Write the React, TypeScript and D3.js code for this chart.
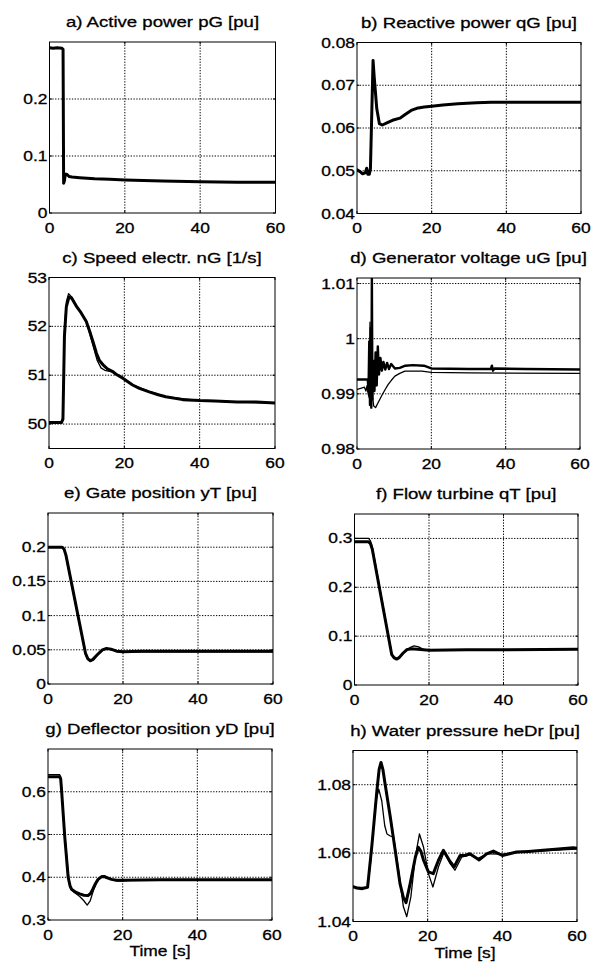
import React from "react";
import * as d3 from "d3";

type Pt = [number, number];

// shared time axis
const timeDomain: [number, number] = [0, 60];
const timeTicks = [0, 20, 40, 60];

// a) active power pG  (measurement only visible)
const pGMeas: Pt[] = [[0, 0.29], [1, 0.289], [2, 0.29], [3.3, 0.289], [3.6, 0.287], [3.75, 0.052], [3.95, 0.056], [4.2, 0.068], [4.6, 0.068], [5.2, 0.064], [6, 0.063], [8, 0.062], [10, 0.061], [12, 0.06], [16, 0.059], [20, 0.058], [25, 0.057], [30, 0.056], [40, 0.055], [50, 0.054], [60, 0.054]];

// b) reactive power qG
const qGMeas: Pt[] = [[0, 0.0502], [0.8, 0.0498], [1.5, 0.0493], [2.2, 0.0495], [2.6, 0.0506], [2.9, 0.0492], [3.3, 0.0492], [3.6, 0.0505], [4.3, 0.0758], [4.6, 0.072], [5.3, 0.0645], [6, 0.061], [6.8, 0.0607], [8, 0.0612], [9.5, 0.0618], [11.5, 0.0623], [13, 0.0632], [14.5, 0.0641], [16, 0.0646], [18, 0.0649], [20, 0.0651], [23, 0.0654], [27, 0.0657], [32, 0.0659], [36, 0.066], [45, 0.066], [60, 0.066]];

// c) speed nG
const nGMeas: Pt[] = [[0, 50.03], [3.3, 50.03], [3.7, 50.1], [4.1, 51.8], [4.6, 52.4], [5.3, 52.6], [6, 52.58], [7.2, 52.42], [8.5, 52.28], [9.9, 52.1], [10.8, 51.9], [11.7, 51.68], [12.6, 51.45], [13.4, 51.3], [14.5, 51.2], [15.5, 51.13], [16.8, 51.08], [17.8, 51.02], [19.6, 50.94], [22.2, 50.8], [24, 50.73], [26.6, 50.66], [29, 50.6], [31, 50.56], [35.5, 50.5], [40, 50.48], [44, 50.47], [50, 50.45], [55, 50.45], [60, 50.43]];
const nGSim: Pt[] = [[0, 50.03], [3.3, 50.03], [3.7, 50.15], [4.1, 51.9], [4.6, 52.5], [5.2, 52.67], [6, 52.6], [7.2, 52.44], [9.9, 52.1], [11.7, 51.6], [12.8, 51.3], [13.8, 51.15], [14.8, 51.1], [16.8, 51.07], [19.6, 50.95], [22, 50.81], [26.6, 50.67], [31, 50.56], [40, 50.48], [50, 50.45], [60, 50.43]];

// d) generator voltage uG
const uGMeas: Pt[] = [[0, 0.9926], [2.9, 0.9926], [3.1, 0.9905], [3.3, 0.9995], [3.5, 0.988], [3.7, 1.002], [3.85, 0.9875], [4.0, 1.011], [4.15, 0.989], [4.4, 0.996], [4.7, 0.9905], [5.0, 0.9975], [5.3, 0.9915], [5.6, 0.9986], [5.9, 0.9935], [6.3, 0.9965], [6.7, 0.9942], [7.1, 0.9958], [7.6, 0.9944], [8.1, 0.9956], [8.6, 0.9945], [9.2, 0.9954], [10.2, 0.9946], [11.5, 0.9947], [13, 0.9951], [15, 0.9952], [18, 0.9951], [20, 0.9946], [30, 0.9945], [36, 0.9945], [36.3, 0.9951], [36.6, 0.9942], [37, 0.9946], [45, 0.9945], [60, 0.9944]];
const uGSim: Pt[] = [[0, 0.9908], [1, 0.991], [2, 0.9912], [2.4, 0.9905], [2.7, 0.9915], [3.0, 0.99], [3.3, 0.9893], [3.5, 1.003], [3.7, 0.9882], [4.0, 0.9905], [4.5, 0.9878], [5.0, 0.9875], [5.6, 0.9883], [6.6, 0.9896], [7.5, 0.9907], [8.4, 0.9917], [9.3, 0.9925], [10.2, 0.9932], [11.5, 0.9937], [12.9, 0.9941], [15, 0.9941], [17.4, 0.9941], [20, 0.9939], [30, 0.9938], [60, 0.9937]];

// e) gate position yT
const yTMeas: Pt[] = [[0, 0.2], [3.8, 0.2], [4.3, 0.197], [4.8, 0.188], [10, 0.045], [10.6, 0.037], [11.3, 0.034], [12, 0.036], [13, 0.042], [14.5, 0.05], [15.6, 0.052], [16.8, 0.051], [18.3, 0.048], [20, 0.047], [25, 0.048], [40, 0.048], [60, 0.048]];
const yTSim: Pt[] = [[0, 0.2], [3.8, 0.2], [4.3, 0.196], [4.8, 0.186], [10, 0.043], [10.6, 0.036], [11.3, 0.033], [12.2, 0.036], [13.4, 0.044], [14.8, 0.05], [16, 0.051], [17.5, 0.049], [19, 0.047], [22, 0.047], [60, 0.047]];

// f) flow turbine qT
const qTMeas: Pt[] = [[0, 0.293], [3.8, 0.293], [4.3, 0.289], [4.8, 0.277], [10, 0.062], [10.6, 0.056], [11.3, 0.053], [12, 0.056], [13, 0.065], [14, 0.072], [15, 0.074], [17, 0.073], [20, 0.071], [30, 0.072], [60, 0.073]];
const qTSim: Pt[] = [[0, 0.3], [3.8, 0.3], [4.3, 0.295], [4.8, 0.282], [10, 0.064], [10.6, 0.057], [11.3, 0.054], [12.2, 0.058], [13.5, 0.068], [15, 0.077], [16, 0.08], [17.2, 0.078], [18.5, 0.073], [20, 0.071], [25, 0.072], [60, 0.073]];

// g) deflector position yD
const yDMeas: Pt[] = [[0, 0.635], [3.1, 0.635], [3.4, 0.63], [3.6, 0.608], [4.5, 0.493], [5.4, 0.4], [5.9, 0.38], [6.3, 0.372], [7.4, 0.365], [8.5, 0.361], [9.6, 0.358], [10.7, 0.357], [11.4, 0.362], [12, 0.372], [12.7, 0.385], [13.4, 0.395], [14.3, 0.401], [15, 0.402], [15.7, 0.399], [17, 0.395], [18.4, 0.393], [20, 0.393], [30, 0.394], [40, 0.394], [60, 0.394]];
const yDSim: Pt[] = [[0, 0.64], [3.1, 0.64], [3.4, 0.635], [3.6, 0.612], [4.5, 0.5], [5.4, 0.41], [6, 0.375], [7, 0.365], [8.5, 0.355], [9.6, 0.345], [10.5, 0.335], [11.3, 0.345], [12.2, 0.37], [13.2, 0.39], [14.2, 0.402], [15, 0.404], [16, 0.4], [17.5, 0.393], [19, 0.391], [22, 0.393], [60, 0.394]];

// h) water pressure heDr
const heDrMeas: Pt[] = [[0, 1.0502], [1, 1.0498], [2.5, 1.0496], [3.9, 1.05], [5.1, 1.0627], [6.4, 1.0783], [7.0, 1.0845], [7.5, 1.0865], [8.0, 1.0845], [8.6, 1.0802], [10, 1.0705], [11.3, 1.0608], [12.6, 1.051], [13.5, 1.047], [14.2, 1.0455], [15.3, 1.051], [16.7, 1.0588], [17.5, 1.0617], [18.2, 1.0605], [18.9, 1.0579], [20.2, 1.0545], [21.5, 1.054], [22.9, 1.0579], [24.2, 1.0608], [25.8, 1.0579], [27.1, 1.056], [28.7, 1.0593], [30, 1.0593], [31.3, 1.0598], [32.7, 1.0588], [33.8, 1.058], [35.8, 1.0598], [37.6, 1.0606], [40, 1.0593], [43.8, 1.0603], [47, 1.0605], [50.9, 1.0608], [55, 1.0612], [59, 1.0616], [60, 1.0614]];
const heDrSim: Pt[] = [[0, 1.05], [3.9, 1.05], [4.8, 1.058], [6, 1.0744], [6.9, 1.0787], [7.7, 1.0753], [8.5, 1.068], [9.1, 1.0656], [10, 1.065], [10.9, 1.0647], [12.2, 1.055], [13.5, 1.0443], [14.4, 1.0414], [15.5, 1.0472], [16.7, 1.059], [17.8, 1.0656], [18.9, 1.0617], [20.2, 1.054], [21.4, 1.0501], [22.9, 1.056], [24.4, 1.0603], [26, 1.0569], [27.3, 1.055], [29.1, 1.0588], [31.3, 1.0595], [33.5, 1.0585], [36, 1.0598], [40, 1.0597], [45, 1.0603], [52, 1.0607], [60, 1.0612]];

const titles = [
  "a) Active power pG [pu]", "b) Reactive power qG [pu]",
  "c) Speed electr. nG [1/s]", "d) Generator voltage uG [pu]",
  "e) Gate position yT [pu]", "f) Flow turbine qT [pu]",
  "g) Deflector position yD [pu]", "h) Water pressure heDr [pu]",
];
const yDomains: [number, number][] = [
  [0, 0.3], [0.04, 0.08], [49.5, 53], [0.98, 1.011],
  [0, 0.25], [0, 0.35], [0.3, 0.7], [1.04, 1.09],
];
const yTicks: number[][] = [
  [0, 0.1, 0.2], [0.04, 0.05, 0.06, 0.07, 0.08], [50, 51, 52, 53], [0.98, 0.99, 1, 1.01],
  [0, 0.05, 0.1, 0.15, 0.2], [0, 0.1, 0.2, 0.3], [0.3, 0.4, 0.5, 0.6], [1.04, 1.06, 1.08],
];
const measured = [pGMeas, qGMeas, nGMeas, uGMeas, yTMeas, qTMeas, yDMeas, heDrMeas];
const simulated = [null, null, nGSim, uGSim, yTSim, qTSim, yDSim, heDrSim];

// plot boxes [left, top, right, bottom] as they sit in the scanned figure
const boxes = [
  [49.5, 42, 275.5, 213], [357, 42.5, 581, 213.5],
  [49, 277.5, 275, 448.5], [357, 278, 580, 449],
  [48, 513, 273, 684], [354.5, 514, 578, 685],
  [48, 749, 272, 920], [353, 750.5, 577, 921.5],
];

const FONT = "'Liberation Sans', Arial, Helvetica, sans-serif";
const SX = 1.2; // scan is stretched horizontally
const fmt = d3.format("~g");

function Txt({ x, y, anchor = "middle", size = 14.5, children }: any) {
  return (
    <text transform={`translate(${x},${y}) scale(${SX},1)`} textAnchor={anchor}
      fontFamily={FONT} fontSize={size} fill="#000" stroke="#000" strokeWidth={0.3}>
      {children}
    </text>
  );
}

function Panel({ i }: { i: number }) {
  const [x0, y0, x1, y1] = boxes[i];
  const x = d3.scaleLinear().domain(timeDomain).range([x0, x1]);
  const y = d3.scaleLinear().domain(yDomains[i]).range([y1, y0]);
  const line = d3.line<Pt>().x(d => x(d[0])).y(d => y(d[1]));
  const sim = simulated[i];
  const clipId = `clip${i}`;
  return (
    <g>
      <defs>
        <clipPath id={clipId}><rect x={x0} y={y0} width={x1 - x0} height={y1 - y0} /></clipPath>
      </defs>
      {/* grid */}
      {timeTicks.filter(t => t > timeDomain[0] && t < timeDomain[1]).map(t => (
        <line key={"gx" + t} x1={x(t)} x2={x(t)} y1={y0} y2={y1} stroke="#000" strokeWidth={1} strokeDasharray="1.3 1.5" />
      ))}
      {yTicks[i].filter(v => y(v) > y0 + 1 && y(v) < y1 - 1).map(v => (
        <line key={"gy" + v} x1={x0} x2={x1} y1={y(v)} y2={y(v)} stroke="#000" strokeWidth={1} strokeDasharray="1.3 1.5" />
      ))}
      {/* ticks */}
      {timeTicks.map(t => (
        <g key={"tx" + t}>
          <line x1={x(t)} x2={x(t)} y1={y1} y2={y1 - 2.5} stroke="#000" />
          <line x1={x(t)} x2={x(t)} y1={y0} y2={y0 + 2.5} stroke="#000" />
        </g>
      ))}
      {yTicks[i].map(v => (
        <g key={"ty" + v}>
          <line x1={x0} x2={x0 + 2.5} y1={y(v)} y2={y(v)} stroke="#000" />
          <line x1={x1} x2={x1 - 2.5} y1={y(v)} y2={y(v)} stroke="#000" />
        </g>
      ))}
      <g clipPath={`url(#${clipId})`} fill="none" stroke="#000" strokeLinejoin="round" strokeLinecap="round">
        {sim && <path d={line(sim) || ""} strokeWidth={1.3} />}
        <path d={line(measured[i]) || ""} strokeWidth={i === 3 ? 2.4 : 3} />
      </g>
      <rect x={x0} y={y0} width={x1 - x0} height={y1 - y0} fill="none" stroke="#000" strokeWidth={1} />
      {/* labels */}
      {yTicks[i].map(v => (
        <Txt key={"ly" + v} x={x0 - 2} y={y(v) + 5} anchor="end">{fmt(v)}</Txt>
      ))}
      {timeTicks.map(t => (
        <Txt key={"lx" + t} x={x(t)} y={y1 + 19.5}>{t}</Txt>
      ))}
      <Txt x={(x0 + x1) / 2} y={y0 - 15} size={15.5}>{titles[i]}</Txt>
      {i >= 6 && <Txt x={(x0 + x1) / 2} y={y1 + 36}>Time [s]</Txt>}
    </g>
  );
}

export default function App() {
  return (
    <svg width={591} height={963} style={{ position: "absolute", left: 0, top: 0, background: "#fff" }}>
      <rect width={591} height={963} fill="#fff" />
      {titles.map((_, i) => <Panel key={i} i={i} />)}
    </svg>
  );
}
